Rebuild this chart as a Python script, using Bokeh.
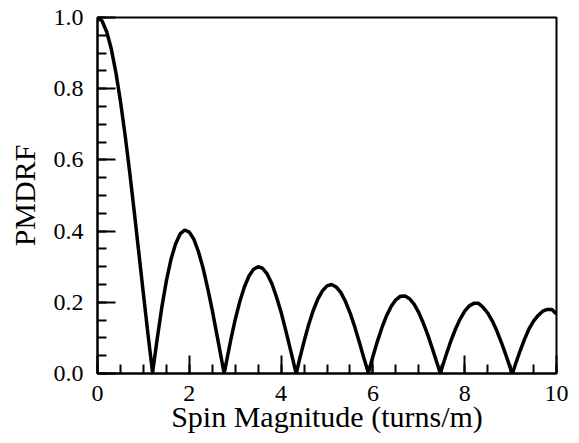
from bokeh.plotting import figure
from bokeh.models import Range1d, SingleIntervalTicker, NumeralTickFormatter
from bokeh.embed import file_html
from bokeh.resources import INLINE

spin = [0.0, 0.1, 0.2, 0.3, 0.4, 0.5, 0.6, 0.7, 0.8, 0.9,
        1.0, 1.1, 1.2, 1.3, 1.4, 1.5, 1.6, 1.7, 1.8, 1.9,
        2.0, 2.1, 2.2, 2.3, 2.4, 2.5, 2.6, 2.7, 2.76, 2.8, 2.9,
        3.0, 3.1, 3.2, 3.3, 3.4, 3.5, 3.6, 3.7, 3.8, 3.9,
        4.0, 4.1, 4.2, 4.3, 4.33, 4.4, 4.5, 4.6, 4.7, 4.8, 4.9,
        5.0, 5.1, 5.2, 5.3, 5.4, 5.5, 5.6, 5.7, 5.8, 5.9,
        6.0, 6.1, 6.2, 6.3, 6.4, 6.5, 6.6, 6.7, 6.8, 6.9,
        7.0, 7.1, 7.2, 7.3, 7.4, 7.47, 7.5, 7.6, 7.7, 7.8, 7.9,
        8.0, 8.1, 8.2, 8.3, 8.4, 8.5, 8.6, 8.7, 8.8, 8.9,
        9.0, 9.04, 9.1, 9.2, 9.3, 9.4, 9.5, 9.6, 9.7, 9.8, 9.9, 10.0]
pmdrf = [1.000, 0.990, 0.960, 0.912, 0.846, 0.765, 0.671, 0.567, 0.455, 0.340,
         0.224, 0.110, 0.003, 0.097, 0.185, 0.260, 0.320, 0.364, 0.392, 0.403,
         0.397, 0.377, 0.342, 0.296, 0.240, 0.178, 0.110, 0.041, 0.000, 0.027, 0.092,
         0.151, 0.202, 0.243, 0.274, 0.293, 0.300, 0.295, 0.279, 0.252, 0.215,
         0.172, 0.122, 0.069, 0.015, 0.000, 0.039, 0.090, 0.137, 0.177, 0.209, 0.232,
         0.246, 0.250, 0.243, 0.228, 0.203, 0.171, 0.133, 0.090, 0.045, 0.002,
         0.048, 0.091, 0.130, 0.163, 0.189, 0.207, 0.217, 0.218, 0.210, 0.194,
         0.171, 0.141, 0.107, 0.068, 0.028, 0.000, 0.014, 0.054, 0.092, 0.125, 0.153,
         0.175, 0.190, 0.197, 0.197, 0.186, 0.170, 0.148, 0.120, 0.087, 0.051,
         0.013, 0.000, 0.024, 0.061, 0.095, 0.125, 0.147, 0.163, 0.175, 0.180, 0.180, 0.167]

FONT = "Liberation Serif"

p = figure(width=579, height=443, output_backend="svg", toolbar_location=None,
           x_range=Range1d(0, 10), y_range=Range1d(0, 1),
           min_border_left=97, min_border_right=23, min_border_top=17, min_border_bottom=70)

p.line(spin, pmdrf, line_color="black", line_width=3.5)

p.grid.visible = False
p.background_fill_color = "white"
p.border_fill_color = "white"
p.outline_line_color = "black"
p.outline_line_width = 2
p.outline_line_alpha = 1

p.xaxis.ticker = SingleIntervalTicker(interval=2, num_minor_ticks=4)
p.yaxis.ticker = SingleIntervalTicker(interval=0.2, num_minor_ticks=4)
p.xaxis.formatter = NumeralTickFormatter(format="0")
p.yaxis.formatter = NumeralTickFormatter(format="0.0")

for ax in (p.xaxis, p.yaxis):
    ax.axis_line_width = 2
    ax.axis_line_color = "black"
    ax.major_tick_line_width = 2
    ax.minor_tick_line_width = 2
    ax.major_tick_line_color = "black"
    ax.minor_tick_line_color = "black"
    ax.major_tick_in = 18
    ax.major_tick_out = 0
    ax.minor_tick_in = 9
    ax.minor_tick_out = 0
    ax.major_label_text_font = FONT
    ax.major_label_text_font_size = "24px"
    ax.major_label_text_color = "black"
    ax.axis_label_text_font = FONT
    ax.axis_label_text_font_size = "30px"
    ax.axis_label_text_font_style = "normal"
    ax.axis_label_text_color = "black"

p.xaxis.axis_label = "Spin Magnitude (turns/m)"
p.yaxis.axis_label = "PMDRF"
p.xaxis.major_label_standoff = 12
p.yaxis.major_label_standoff = 14
p.xaxis.axis_label_standoff = -4
p.yaxis.axis_label_standoff = 10

open("out.html", "w").write(file_html(p, INLINE))
